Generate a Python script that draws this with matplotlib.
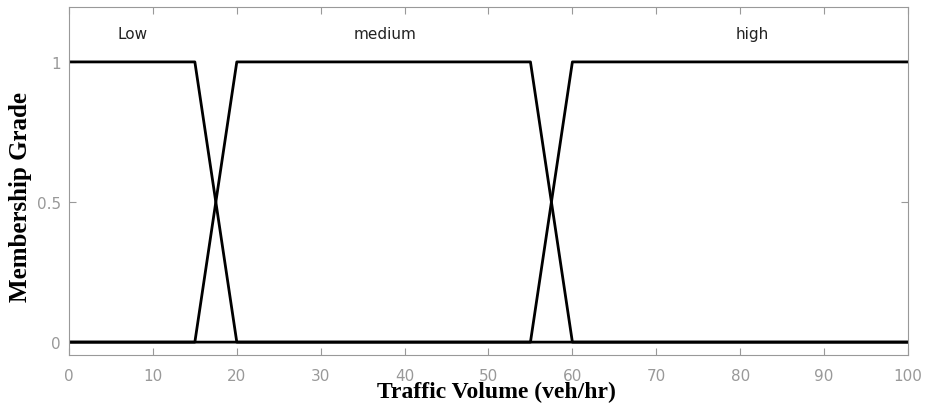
import matplotlib
matplotlib.use("Agg")
import matplotlib.pyplot as plt

# membership functions (trapezoids)
low_x = [0, 15, 20, 100]
low_y = [1, 1, 0, 0]
medium_x = [0, 15, 20, 55, 60, 100]
medium_y = [0, 0, 1, 1, 0, 0]
high_x = [0, 55, 60, 100]
high_y = [0, 0, 1, 1]

labels = ["Low", "medium", "high"]
label_x = [7.6, 37.7, 81.4]
label_y = 1.1

xticks = list(range(0, 101, 10))
yticks = [0, 0.5, 1]

fig = plt.figure(figsize=(9.25, 4.1), dpi=100)
ax = fig.add_axes([0.0746, 0.1317, 0.9070, 0.8488])

for xs, ys in [(low_x, low_y), (medium_x, medium_y), (high_x, high_y)]:
    ax.plot(xs, ys, color="black", linewidth=2)

for lab, lx in zip(labels, label_x):
    ax.text(lx, label_y, lab, ha="center", va="center", fontsize=11,
            family="DejaVu Sans", color="#222222")

ax.set_xlim(0, 100)
ax.set_ylim(-0.046, 1.196)
ax.set_xticks(xticks)
ax.set_yticks(yticks)
ax.set_yticklabels(["0", "0.5", "1"])
ax.tick_params(direction="in", top=True, right=True, colors="#999999",
               labelcolor="#999999", labelsize=11, length=5)
ax.tick_params(axis="x", pad=9)
ax.tick_params(axis="y", pad=6)
for s in ax.spines.values():
    s.set_color("#999999")

ax.set_xlabel("Traffic Volume (veh/hr)", family="Liberation Serif",
              fontweight="bold", fontsize=17, va="center")
ax.set_ylabel("Membership Grade", family="Liberation Serif",
              fontweight="bold", fontsize=18, va="center")
ax.xaxis.set_label_coords(0.509, -0.106)
ax.yaxis.set_label_coords(-0.058, 0.457)

fig.savefig("out.png", dpi=100)
